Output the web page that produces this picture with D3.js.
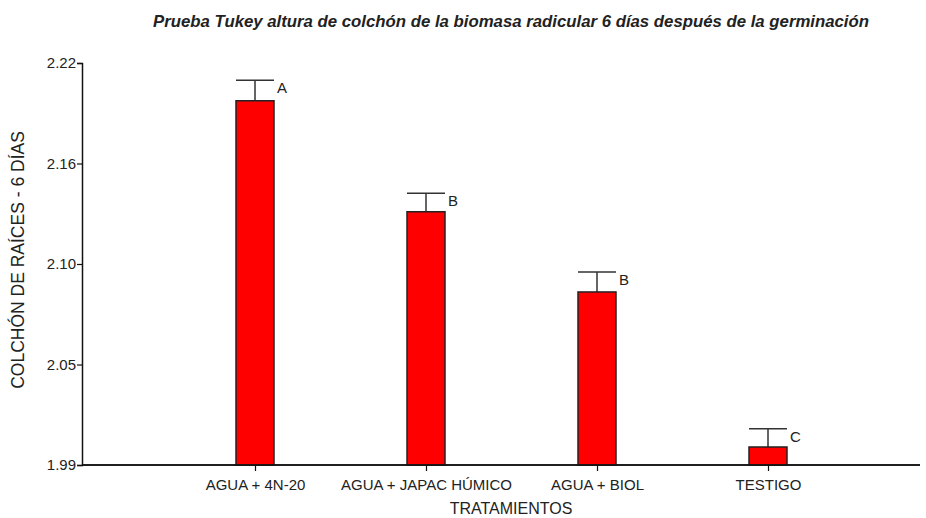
<!DOCTYPE html>
<html>
<head>
<meta charset="utf-8">
<script src="https://cdn.jsdelivr.net/npm/d3@7"></script>
<style>
body{margin:0;background:#fff;}
text{font-family:"Liberation Sans",Arial,sans-serif;fill:#222;}
</style>
</head>
<body>
<div id="chart"></div>
<script>
//-------Data
var categories = ["AGUA + 4N-20", "AGUA + JAPAC HÚMICO", "AGUA + BIOL", "TESTIGO"];
var means = [2.1984, 2.1349, 2.0890, 2.0003];
var errors = [0.0117, 0.0106, 0.0114, 0.0105];
var groups = ["A", "B", "B", "C"];
var yTicks = [1.99, 2.0475, 2.105, 2.1625, 2.22];
var yTickLabels = ["1.99", "2.05", "2.10", "2.16", "2.22"];

var w = 926, h = 518;
var mLeft = 82, mRight = 920, mTop = 63, mBottom = 465;

var svg = d3.select("#chart").append("svg")
	.attr("width", w)
	.attr("height", h);

//Scales
var x = d3.scalePoint()
	.domain(categories)
	.range([255, 768]);
var barW = 38;

var y = d3.scaleLinear()
	.domain([1.99, 2.22])
	.range([mBottom, mTop]);

//Title
svg.append("text")
	.attr("x", 511)
	.attr("y", 27)
	.attr("text-anchor", "middle")
	.style("font-family", "'Liberation Sans Narrow','Liberation Sans',Arial,sans-serif")
	.style("font-weight", "bold")
	.style("font-style", "italic")
	.style("font-size", "17px")
	.attr("textLength", 716)
	.attr("lengthAdjust", "spacingAndGlyphs")
	.text("Prueba Tukey altura de colchón de la biomasa radicular 6 días después de la germinación");

//Y axis
var yAxis = d3.axisLeft(y)
	.tickValues(yTicks)
	.tickSize(5)
	.tickFormat(function(d, i){ return yTickLabels[i]; });
var gy = svg.append("g")
	.attr("transform", "translate(" + mLeft + ",0)")
	.call(yAxis);
gy.select(".domain").attr("stroke", "#111").attr("stroke-width", 1.5);
gy.selectAll(".tick line").attr("stroke", "#111").attr("stroke-width", 1.2);
gy.selectAll(".tick text")
	.style("font-size", "15px")
	.style("font-family", "'Liberation Sans',Arial,sans-serif")
	.attr("fill", "#222")
	.attr("x", -6);

//X axis
var xAxis = d3.axisBottom(x)
	.tickSize(6)
	.tickSizeOuter(0);
var gx = svg.append("g")
	.attr("transform", "translate(0," + mBottom + ")")
	.call(xAxis);
gx.select(".domain")
	.attr("d", "M" + mLeft + ",0H" + mRight)
	.attr("stroke", "#111").attr("stroke-width", 1.5);
gx.selectAll(".tick line").attr("stroke", "#111").attr("stroke-width", 1.2);
gx.selectAll(".tick text")
	.style("font-size", "15px")
	.style("font-family", "'Liberation Sans',Arial,sans-serif")
	.attr("fill", "#222")
	.attr("y", 14);

//Axis titles
svg.append("text")
	.attr("x", 511)
	.attr("y", 514)
	.attr("text-anchor", "middle")
	.style("font-size", "16px")
	.text("TRATAMIENTOS");

svg.append("text")
	.attr("transform", "translate(24,260) rotate(-90)")
	.attr("text-anchor", "middle")
	.style("font-size", "17.5px")
	.text("COLCHÓN DE RAÍCES - 6 DÍAS");

//Bars
var data = categories.map(function(c, i){
	return {cat: c, mean: means[i], err: errors[i], grp: groups[i]};
});

var g = svg.append("g");

//Error bars, drawn behind the bars
g.selectAll(".err")
	.data(data)
	.enter().append("path")
	.attr("class", "err")
	.attr("fill", "none")
	.attr("stroke", "#333")
	.attr("stroke-width", 1.5)
	.attr("d", function(d){
		var cx = x(d.cat), yt = y(d.mean + d.err);
		return "M" + cx + "," + y(d.mean) + "V" + yt +
			"M" + (cx - barW / 2) + "," + yt + "H" + (cx + barW / 2);
	});

g.selectAll(".bar")
	.data(data)
	.enter().append("rect")
	.attr("class", "bar")
	.attr("x", function(d){ return x(d.cat) - barW / 2; })
	.attr("y", function(d){ return y(d.mean); })
	.attr("width", barW)
	.attr("height", function(d){ return mBottom - y(d.mean); })
	.attr("fill", "#ff0000")
	.attr("stroke", "#222")
	.attr("stroke-width", 1.5);

//Tukey group letters
g.selectAll(".grp")
	.data(data)
	.enter().append("text")
	.attr("class", "grp")
	.attr("x", function(d){ return x(d.cat) + barW / 2 + 3; })
	.attr("y", function(d){ return y(d.mean + d.err) + 13; })
	.style("font-size", "15px")
	.text(function(d){ return d.grp; });

//redraw x domain on top of bars
svg.append("line")
	.attr("x1", mLeft).attr("x2", mRight)
	.attr("y1", mBottom).attr("y2", mBottom)
	.attr("stroke", "#111").attr("stroke-width", 1.5);
</script>
</body>
</html>
